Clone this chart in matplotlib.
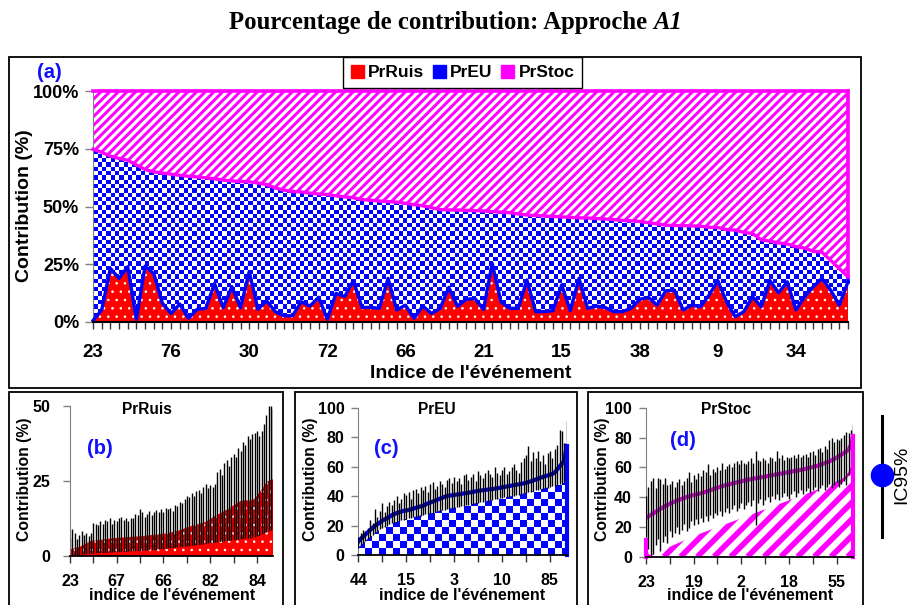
import numpy as np
import matplotlib
matplotlib.use('Agg')
import matplotlib.pyplot as plt
from matplotlib.colors import ListedColormap
from matplotlib.patches import Rectangle, Patch
from matplotlib.lines import Line2D
from matplotlib.collections import LineCollection

plt.rcParams['font.family'] = ['Liberation Sans', 'DejaVu Sans']
plt.rcParams['font.weight'] = 'bold'

# ---------------- data: panel (a) (100% stacked, sorted) ----------------
pr_ruis = [0.6, 5.2, 23.2, 18.9, 23.9, 1.2, 24.2, 21.0, 8.1, 3.7,
           7.8, 1.6, 5.5, 5.9, 16.7, 6.2, 15.3, 6.2, 21.8, 5.5,
           9.2, 4.5, 2.7, 2.7, 8.8, 6.9, 10.7, 1.2, 12.4, 11.0,
           17.9, 6.3, 6.3, 5.9, 18.9, 5.2, 7.3, 1.6, 6.9, 3.7,
           5.9, 15.0, 6.8, 9.8, 10.2, 5.5, 25.4, 8.8, 5.9, 5.9,
           18.2, 4.5, 4.5, 4.9, 16.0, 4.9, 18.9, 5.9, 6.9, 6.3,
           4.5, 4.5, 5.9, 9.8, 10.7, 7.3, 13.5, 13.8, 5.2, 7.3,
           6.6, 11.7, 17.9, 8.8, 2.3, 4.5, 11.0, 6.6, 17.9, 12.7,
           17.4, 5.2, 11.0, 15.3, 18.9, 13.8, 7.3, 17.4]
# PrRuis + PrEU (upper boundary of the blue area); PrStoc fills the rest to 100%
pr_ruis_eu = [74.8, 73.5, 71.8, 70.8, 70.0, 68.0, 66.0, 65.0, 64.5, 64.0,
              63.5, 63.1, 62.8, 62.4, 62.0, 61.4, 61.1, 60.8, 60.7, 60.2,
              59.5, 58.0, 57.1, 56.5, 56.3, 55.8, 55.4, 55.2, 54.6, 54.2,
              53.8, 53.0, 52.7, 52.4, 52.1, 51.9, 51.4, 50.8, 50.3, 49.5,
              48.7, 48.5, 48.5, 48.3, 48.2, 48.1, 47.8, 47.6, 47.3, 46.8,
              46.3, 46.1, 45.9, 45.7, 45.5, 45.3, 45.1, 45.0, 44.8, 44.6,
              44.3, 44.0, 43.8, 43.5, 43.0, 42.5, 41.9, 41.8, 41.7, 41.6,
              41.5, 41.0, 40.9, 40.0, 39.8, 38.8, 38.3, 35.6, 35.0, 34.2,
              33.8, 32.6, 32.0, 30.6, 30.2, 26.7, 23.1, 19.6]
labels_a = ['23', '76', '30', '72', '66', '21', '15', '38', '9', '34']

# ---------------- panel (b) PrRuis ----------------
mean_b = [2.2, 2.4, 2.6, 2.8, 3.0, 3.4, 3.8, 4.3, 4.8, 5.0,
          5.1, 5.2, 5.3, 5.4, 5.5, 5.6, 5.7, 5.8, 5.9, 6.0,
          6.0, 6.1, 6.1, 6.2, 6.3, 6.3, 6.4, 6.4, 6.5, 6.5,
          6.6, 6.6, 6.7, 6.8, 6.9, 7.0, 7.0, 7.1, 7.2, 7.3,
          7.4, 7.5, 7.6, 7.8, 8.0, 8.2, 8.3, 8.6, 8.9, 9.2,
          9.5, 9.7, 10.0, 10.2, 10.4, 10.6, 10.9, 11.1, 11.3, 11.8,
          12.3, 12.8, 13.3, 13.7, 14.1, 14.5, 15.0, 15.4, 15.8, 16.3,
          16.8, 17.3, 17.8, 18.3, 18.4, 18.5, 18.5, 18.6, 18.6, 19.0,
          20.0, 21.2, 22.0, 23.2, 24.5, 25.0, 25.4, 25.5]
lo_b = [0.0, 0.1, 0.2, 0.3, 0.3, 0.4, 0.5, 0.6, 0.7, 0.8,
        0.8, 0.9, 0.9, 1.0, 1.0, 1.0, 1.1, 1.1, 1.1, 1.2,
        1.2, 1.2, 1.3, 1.3, 1.4, 1.4, 1.5, 1.5, 1.6, 1.6,
        1.7, 1.7, 1.8, 1.8, 1.9, 1.9, 2.0, 2.0, 2.1, 2.2,
        2.3, 2.4, 2.5, 2.5, 2.6, 2.7, 2.8, 2.9, 3.0, 3.0,
        3.1, 3.2, 3.3, 3.4, 3.5, 3.6, 3.7, 3.8, 4.0, 4.1,
        4.2, 4.3, 4.4, 4.5, 4.6, 4.7, 4.8, 4.9, 5.0, 5.1,
        5.2, 5.3, 5.4, 5.5, 5.6, 5.7, 5.8, 5.9, 6.0, 6.2,
        6.4, 6.7, 7.0, 7.4, 7.8, 8.1, 8.4, 8.6]
hi_b = [6.0, 9.0, 7.5, 5.5, 7.0, 8.2, 7.0, 7.8, 6.5, 7.5,
        11.0, 10.5, 10.2, 11.5, 10.8, 12.0, 11.5, 12.5, 10.5, 12.0,
        11.5, 12.5, 13.0, 12.0, 12.5, 11.5, 12.5, 12.8, 14.0, 13.5,
        15.5, 14.8, 13.0, 14.0, 15.0, 13.8, 14.8, 15.2, 14.5, 15.5,
        14.8, 16.0, 15.5, 16.0, 15.0, 17.0, 16.5, 18.0, 17.5, 19.0,
        20.0, 19.5, 21.0, 20.0, 21.5, 22.0, 21.0, 23.0, 24.0, 22.5,
        23.5, 23.0, 24.0, 28.0, 29.0, 27.0, 31.0, 32.0, 30.0, 33.0,
        34.0, 33.0, 36.0, 35.0, 38.0, 37.0, 40.0, 39.0, 40.5, 41.0,
        41.5, 40.0, 41.5, 44.0, 47.0, 50.0, 50.0, 49.0]
labels_b = ['23', '67', '66', '82', '84']

# ---------------- panel (c) PrEU ----------------
mean_c = [9.0, 11.0, 12.5, 14.0, 15.5, 17.0, 18.5, 19.8, 21.0, 22.0,
          23.2, 24.2, 25.0, 26.0, 27.0, 27.8, 28.5, 29.0, 29.5, 30.0,
          30.2, 30.6, 31.0, 31.5, 32.0, 32.5, 33.0, 33.5, 34.2, 35.0,
          35.6, 36.2, 36.8, 37.5, 38.2, 38.8, 39.5, 40.0, 40.3, 40.5,
          40.8, 41.0, 41.2, 41.5, 41.8, 42.0, 42.3, 42.6, 42.9, 43.2,
          43.5, 43.8, 44.0, 44.2, 44.4, 44.6, 44.8, 45.0, 45.3, 45.6,
          45.9, 46.2, 46.5, 46.8, 47.1, 47.4, 47.7, 48.0, 48.3, 48.6,
          49.0, 49.5, 50.0, 50.6, 51.2, 51.8, 52.4, 53.0, 53.5, 54.0,
          54.5, 55.0, 56.0, 58.0, 60.0, 62.0, 64.0, 74.0]
lo_c = [5.0, 6.5, 8.0, 9.5, 11.0, 12.3, 13.5, 15.0, 16.2, 17.5,
        18.5, 19.3, 20.0, 20.8, 21.5, 22.0, 22.5, 23.0, 23.5, 24.0,
        24.5, 25.0, 25.3, 25.6, 26.0, 26.4, 26.8, 27.2, 27.6, 28.0,
        28.4, 28.8, 29.2, 29.6, 30.0, 30.4, 30.8, 31.2, 31.5, 31.8,
        32.1, 32.4, 32.8, 33.1, 33.4, 33.8, 34.1, 34.4, 34.8, 35.2,
        35.5, 35.8, 36.1, 36.4, 36.8, 37.1, 37.4, 37.8, 38.1, 38.5,
        38.8, 39.1, 39.4, 39.7, 40.0, 40.3, 40.6, 41.0, 41.4, 41.8,
        42.2, 42.6, 43.0, 43.4, 43.8, 44.2, 44.6, 45.0, 45.4, 45.8,
        46.2, 46.6, 47.0, 47.5, 48.0, 48.5, 49.0, 50.0]
hi_c = [12.0, 15.0, 17.0, 16.0, 18.0, 24.0, 22.0, 31.0, 26.0, 30.0,
        35.0, 29.0, 33.0, 36.0, 34.0, 37.0, 40.0, 35.0, 38.0, 42.0,
        41.0, 43.0, 38.0, 44.0, 45.0, 42.0, 46.0, 44.0, 47.0, 43.0,
        48.0, 49.5, 45.0, 47.0, 50.0, 48.0, 46.0, 51.0, 52.5, 49.0,
        53.0, 50.0, 52.0, 48.0, 54.0, 55.0, 51.0, 53.0, 55.0, 50.0,
        57.0, 54.0, 52.0, 56.0, 58.0, 55.0, 53.0, 59.5, 56.0, 54.0,
        58.0, 60.0, 55.0, 57.0, 59.5, 62.0, 58.0, 56.0, 63.0, 66.0,
        68.0, 74.0, 64.0, 70.0, 66.0, 70.5, 64.0, 68.0, 62.0, 69.0,
        70.5, 66.0, 72.0, 75.0, 85.0, 84.0, 76.0, 91.0]
labels_c = ['44', '15', '3', '10', '85']

# ---------------- panel (d) PrStoc ----------------
mean_d = [26.0, 27.0, 28.0, 29.0, 30.0, 31.0, 32.0, 33.0, 34.0, 34.8,
          35.5, 36.2, 37.0, 37.6, 38.2, 38.8, 39.4, 40.0, 40.5, 41.0,
          41.4, 41.8, 42.2, 42.6, 43.0, 43.5, 44.0, 44.6, 45.2, 45.8,
          46.3, 46.8, 47.3, 47.8, 48.2, 48.6, 49.0, 49.4, 49.8, 50.2,
          50.6, 51.0, 51.4, 51.7, 52.0, 52.3, 52.6, 52.9, 53.2, 53.5,
          53.8, 54.1, 54.4, 54.7, 55.0, 55.3, 55.6, 55.9, 56.2, 56.5,
          56.8, 57.1, 57.4, 57.7, 58.0, 58.3, 58.6, 59.0, 59.4, 59.8,
          60.2, 60.6, 61.0, 61.6, 62.2, 62.8, 63.4, 64.0, 64.8, 65.6,
          66.5, 67.5, 68.5, 69.5, 70.5, 72.0, 75.0, 81.0]
lo_d = [11.0, 2.0, 1.0, 1.8, 2.5, 3.2, 3.9, 4.6, 5.3, 6.0,
        6.7, 7.4, 8.1, 8.8, 9.5, 10.2, 10.9, 11.6, 12.3, 13.0,
        13.7, 14.4, 15.0, 15.6, 16.2, 16.8, 17.4, 18.0, 18.6, 19.2,
        19.8, 20.4, 21.0, 21.6, 22.2, 22.8, 23.4, 24.0, 24.6, 25.2,
        25.8, 26.4, 27.0, 27.6, 28.2, 28.8, 29.4, 30.0, 30.6, 31.2,
        31.8, 32.4, 33.0, 33.6, 34.2, 34.8, 35.4, 36.0, 36.6, 37.2,
        37.8, 38.4, 39.0, 39.6, 40.2, 40.8, 41.4, 42.0, 42.6, 43.2,
        43.8, 44.4, 45.0, 45.7, 46.4, 47.1, 47.8, 48.5, 49.2, 49.9,
        50.6, 51.3, 52.0, 53.0, 54.5, 57.0, 60.0, 64.0]
hi_d = [41.0, 47.0, 51.0, 53.0, 46.0, 53.0, 52.0, 49.0, 53.0, 48.0,
        49.0, 51.0, 47.0, 50.0, 52.0, 48.0, 51.0, 53.0, 57.0, 50.0,
        55.0, 52.0, 56.0, 54.0, 58.0, 57.0, 62.0, 55.0, 59.0, 57.0,
        60.0, 58.0, 63.0, 59.0, 61.0, 62.0, 60.0, 63.0, 64.0, 62.0,
        65.0, 63.0, 62.0, 64.0, 66.0, 63.0, 71.0, 65.0, 64.0, 66.0,
        65.0, 63.0, 67.0, 66.0, 64.0, 71.0, 66.0, 68.0, 65.0, 67.0,
        66.0, 67.0, 68.0, 66.0, 69.0, 67.0, 68.0, 69.0, 67.0, 70.0,
        71.0, 68.0, 72.0, 73.0, 70.0, 74.0, 72.0, 78.0, 80.0, 77.0,
        79.0, 78.0, 80.0, 82.0, 84.0, 83.0, 85.0, 89.0]
lo_bar_d = [13.0, 5.0, 1.0, 2.0, 8.0, 12.0, 4.0, 10.0, 14.0, 9.0,
            17.0, 13.0, 16.0, 20.0, 15.0, 18.0, 22.0, 17.0, 19.0, 24.0,
            21.0, 25.0, 22.0, 26.0, 23.0, 27.0, 24.0, 28.0, 26.0, 29.0,
            28.0, 31.0, 27.0, 30.0, 33.0, 29.0, 32.0, 35.0, 31.0, 33.0,
            36.0, 32.0, 35.0, 37.0, 34.0, 38.0, 21.0, 36.0, 39.0, 35.0,
            38.0, 40.0, 37.0, 41.0, 39.0, 42.0, 38.0, 40.0, 43.0, 41.0,
            39.0, 42.0, 44.0, 40.0, 43.0, 45.0, 42.0, 44.0, 46.0, 43.0,
            45.0, 47.0, 44.0, 46.0, 48.0, 45.0, 47.0, 49.0, 46.0, 48.0,
            50.0, 47.0, 49.0, 51.0, 48.0, 55.0, 58.0, 64.0]
labels_d = ['23', '19', '2', '18', '55']

# ---------------- figure ----------------
W, H = 911, 605
fig = plt.figure(figsize=(W / 100, H / 100), dpi=100)


def fx(p):
    return p / W


def fy(p):
    return 1 - p / H


def add_ax(l, t, r, b):
    a = fig.add_axes([fx(l), fy(b), (r - l) / W, (b - t) / H])
    a.set_facecolor('none')
    return a


def hatch_fill(ax, x, lo, hi, face, hcolor, hatch, hlw, z):
    with plt.rc_context({'hatch.linewidth': hlw}):
        c = ax.fill_between(x, lo, hi, facecolor=face, edgecolor=hcolor,
                            hatch=hatch, linewidth=0, zorder=z)
    if hasattr(c, 'set_hatch_linewidth'):
        c.set_hatch_linewidth(hlw)
    return c


def ax_px(ax):
    pos = ax.get_position()
    return pos.width * W, pos.height * H


def checker_fill(ax, x, lo, hi, cell, color, z):
    coll = ax.fill_between(x, lo, hi, facecolor='none', edgecolor='none', linewidth=0)
    wpx, hpx = ax_px(ax)
    nx, ny = int(round(wpx)), int(round(hpx))
    ii, jj = np.indices((ny, nx))
    pat = ((np.floor(ii / cell) + np.floor(jj / cell)) % 2).astype(int)
    x0, x1 = ax.get_xlim()
    y0, y1 = ax.get_ylim()
    im = ax.imshow(pat, extent=(x0, x1, y0, y1), origin='lower',
                   cmap=ListedColormap(['white', color]), vmin=0, vmax=1,
                   interpolation='nearest', aspect='auto', zorder=z)
    im.set_clip_path(coll.get_paths()[0], ax.transData)
    ax.set_xlim(x0, x1)
    ax.set_ylim(y0, y1)


def stripe_fill(ax, x, lo, hi, period, stripe_px, color, z):
    # white area with diagonal '/' stripes (period measured horizontally, in pixels)
    coll = ax.fill_between(x, lo, hi, facecolor='white', edgecolor='none', linewidth=0, zorder=z)
    wpx, hpx = ax_px(ax)
    segs = []
    for o in np.arange(-hpx - period, wpx + period, period):
        segs.append([(o / wpx, 0.0), ((o + hpx) / wpx, 1.0)])
    lw_pt = stripe_px / np.sqrt(2) * 72 / 100
    lc = LineCollection(segs, colors=color, linewidths=lw_pt, transform=ax.transAxes,
                        zorder=z + 0.1)
    ax.add_collection(lc, autolim=False)
    lc.set_clip_path(coll.get_paths()[0], ax.transData)


# frames
for (l, t, r, b) in [(9, 57, 861, 388), (9, 392, 283, 620),
                     (295, 392, 577, 620), (588, 392, 863, 620)]:
    fig.add_artist(Rectangle((fx(l), fy(b)), (r - l) / W, (b - t) / H,
                             transform=fig.transFigure, fill=False,
                             edgecolor='black', lw=1.3, zorder=0))

# ---------------- panel (a) ----------------
x = np.arange(len(pr_ruis))
n = len(pr_ruis) - 1
ax = add_ax(93, 91, 848, 322)
ax.set_xlim(0, n)
ax.set_ylim(0, 100)
hatch_fill(ax, x, 0, pr_ruis, 'red', 'white', '..', 0.6, 1)
checker_fill(ax, x, pr_ruis, pr_ruis_eu, 4.3, 'blue', 1)
stripe_fill(ax, x, pr_ruis_eu, 100, 8.7, 4.2, 'magenta', 1)
ax.plot(x, pr_ruis, color='blue', lw=2.4, zorder=3, clip_on=False)
ax.plot(x, pr_ruis_eu, color='magenta', lw=2.4, zorder=4, clip_on=False)
ax.plot([0, n], [100, 100], color='magenta', lw=2.6, zorder=4, clip_on=False)
ax.plot([n, n], [pr_ruis_eu[-1], 100], color='magenta', lw=2.6, zorder=4, clip_on=False)
ax.plot([n, n], [pr_ruis[-1], pr_ruis_eu[-1]], color='blue', lw=2.6, zorder=3, clip_on=False)

for s in ['top', 'right']:
    ax.spines[s].set_visible(False)
ax.spines['left'].set_color('#808080')
ax.spines['bottom'].set_linewidth(1.5)
ax.spines['bottom'].set_zorder(5)
ax.set_xticks(x)
xl = [''] * len(x)
for k, lab in enumerate(labels_a):
    xl[k * 9] = lab
ax.set_xticklabels(xl)
ax.set_yticks([0, 25, 50, 75, 100])
ax.set_yticklabels(['0%', '25%', '50%', '75%', '100%'])
ax.tick_params(axis='x', length=5, width=1, color='#333333', pad=10.5, labelsize=13.5)
ax.tick_params(axis='y', length=6, width=1, color='#808080', pad=4, labelsize=13)

fig.text(fx(470.5), fy(373), "Indice de l'événement", ha='center', va='center', fontsize=14)
fig.text(fx(25), fy(206), 'Contribution (%)', ha='center', va='center', rotation=90, fontsize=14)
fig.text(fx(49), fy(72), '(a)', ha='center', va='center', fontsize=14.5, color='#1010ff')

handles = [Patch(facecolor='red', edgecolor='red'),
           Patch(facecolor='blue', edgecolor='blue'),
           Patch(facecolor='magenta', edgecolor='magenta')]
leg = fig.legend(handles, ['PrRuis', 'PrEU', 'PrStoc'], loc='center',
                 bbox_to_anchor=(fx(462.5), fy(72.5)), ncol=3, frameon=True,
                 fancybox=False, edgecolor='black', framealpha=1,
                 prop={'weight': 'bold', 'size': 12.5}, handlelength=0.75,
                 handleheight=0.75, handletextpad=0.25, columnspacing=0.5,
                 borderpad=0.45, borderaxespad=0)
leg.get_frame().set_linewidth(1.0)
leg.set_zorder(10)


# ---------------- small panels ----------------
def style_small(a, ylim, yticks, labels, ypad):
    a.set_xlim(0, n)
    a.set_ylim(*ylim)
    for s in ['top', 'right']:
        a.spines[s].set_visible(False)
    a.spines['left'].set_color('#808080')
    a.spines['bottom'].set_linewidth(1.3)
    a.spines['bottom'].set_zorder(5)
    a.set_xticks(np.arange(0, 81, 10))
    xl = [''] * 9
    for k, lab in enumerate(labels):
        xl[k * 2] = lab
    a.set_xticklabels(xl)
    a.set_yticks(yticks)
    a.set_yticklabels([str(v) for v in yticks])
    a.tick_params(axis='x', length=5, width=1, color='#333333', pad=8, labelsize=11.5)
    a.tick_params(axis='y', length=5, width=1, color='#808080', pad=ypad, labelsize=11.5)


# (b)
axb = add_ax(70, 405.7, 273.3, 556)
style_small(axb, (0, 50), [0, 25, 50], labels_b, 9)
hatch_fill(axb, x, 0, mean_b, 'red', 'white', '..', 0.6, 1)
axb.vlines(x, lo_b, hi_b, color='black', lw=1.0, zorder=2)
hatch_fill(axb, x, 0, lo_b, 'red', 'white', '..', 0.6, 3)

# (c)
axc = add_ax(358.3, 407.7, 566.7, 555)
style_small(axc, (0, 100), [0, 20, 40, 60, 80, 100], labels_c, 5)
checker_fill(axc, x, 0, lo_c, 7.0, 'blue', 1)
axc.plot(x, mean_c, color='blue', lw=3.0, zorder=2)
axc.vlines(x, lo_c, hi_c, color='black', lw=1.0, zorder=3)
axc.plot([n, n], [0, mean_c[-1]], color='blue', lw=3.0, zorder=4, clip_on=False)

# (d)
axd = add_ax(646, 407.7, 853.3, 556.7)
style_small(axd, (0, 100), [0, 20, 40, 60, 80, 100], labels_d, 5)
stripe_fill(axd, x, 0, lo_d, 16.7, 8.0, 'magenta', 1)
axd.plot(x, mean_d, color='magenta', lw=3.0, zorder=2)
axd.vlines(x, lo_bar_d, hi_d, color='black', lw=1.0, zorder=3)
axd.plot([n, n], [0, mean_d[-1]], color='magenta', lw=3.0, zorder=4, clip_on=False)
axd.plot([0, 0], [0, lo_d[0]], color='magenta', lw=3.0, zorder=4, clip_on=False)

# small-panel texts
for (cx, cy_lab, tx, title, pcx, pcy, plab) in [
        (172, 596, 146.7, 'PrRuis', 100, 448, '(b)'),
        (462, 596, 436.7, 'PrEU', 386, 448, '(c)'),
        (750, 596, 725.8, 'PrStoc', 683, 440, '(d)')]:
    fig.text(fx(cx), fy(cy_lab), "indice de l'événement", ha='center', va='center', fontsize=11.5)
    fig.text(fx(tx), fy(410), title, ha='center', va='center', fontsize=11.2)
    fig.text(fx(pcx), fy(pcy), plab, ha='center', va='center', fontsize=14.5, color='#1010ff')
for yx in [24.5, 310.5, 602.5]:
    fig.text(fx(yx), fy(479), 'Contribution (%)', ha='center', va='center', rotation=90, fontsize=11.3)

# IC95% legend
fig.add_artist(Line2D([fx(881.7), fx(881.7)], [fy(415.7), fy(536.7)], color='black', lw=2.2,
                      transform=fig.transFigure))
fig.add_artist(Line2D([fx(881.7)], [fy(475)], marker='o', markersize=16, color='blue',
                      markeredgecolor='blue', transform=fig.transFigure))
fig.text(fx(901.5), fy(475), 'IC95%', ha='center', va='center', rotation=90, fontsize=14,
         fontweight='normal')

# title
TS = 17.8
r = fig.canvas.get_renderer()
t1 = fig.text(0, fy(29), 'Pourcentage de contribution: Approche', family='Liberation Serif',
              weight='bold', size=TS, va='baseline', ha='left')
t2 = fig.text(0, fy(29), 'A1', family='Liberation Serif', weight='bold', style='italic',
              size=TS, va='baseline', ha='left')
w1 = t1.get_window_extent(r).width
w2 = t2.get_window_extent(r).width
sp = TS * 100 / 72 * 0.25
left = 455.5 - (w1 + sp + w2) / 2
t1.set_x(fx(left))
t2.set_x(fx(left + w1 + sp))

fig.savefig('out.png', dpi=100)
